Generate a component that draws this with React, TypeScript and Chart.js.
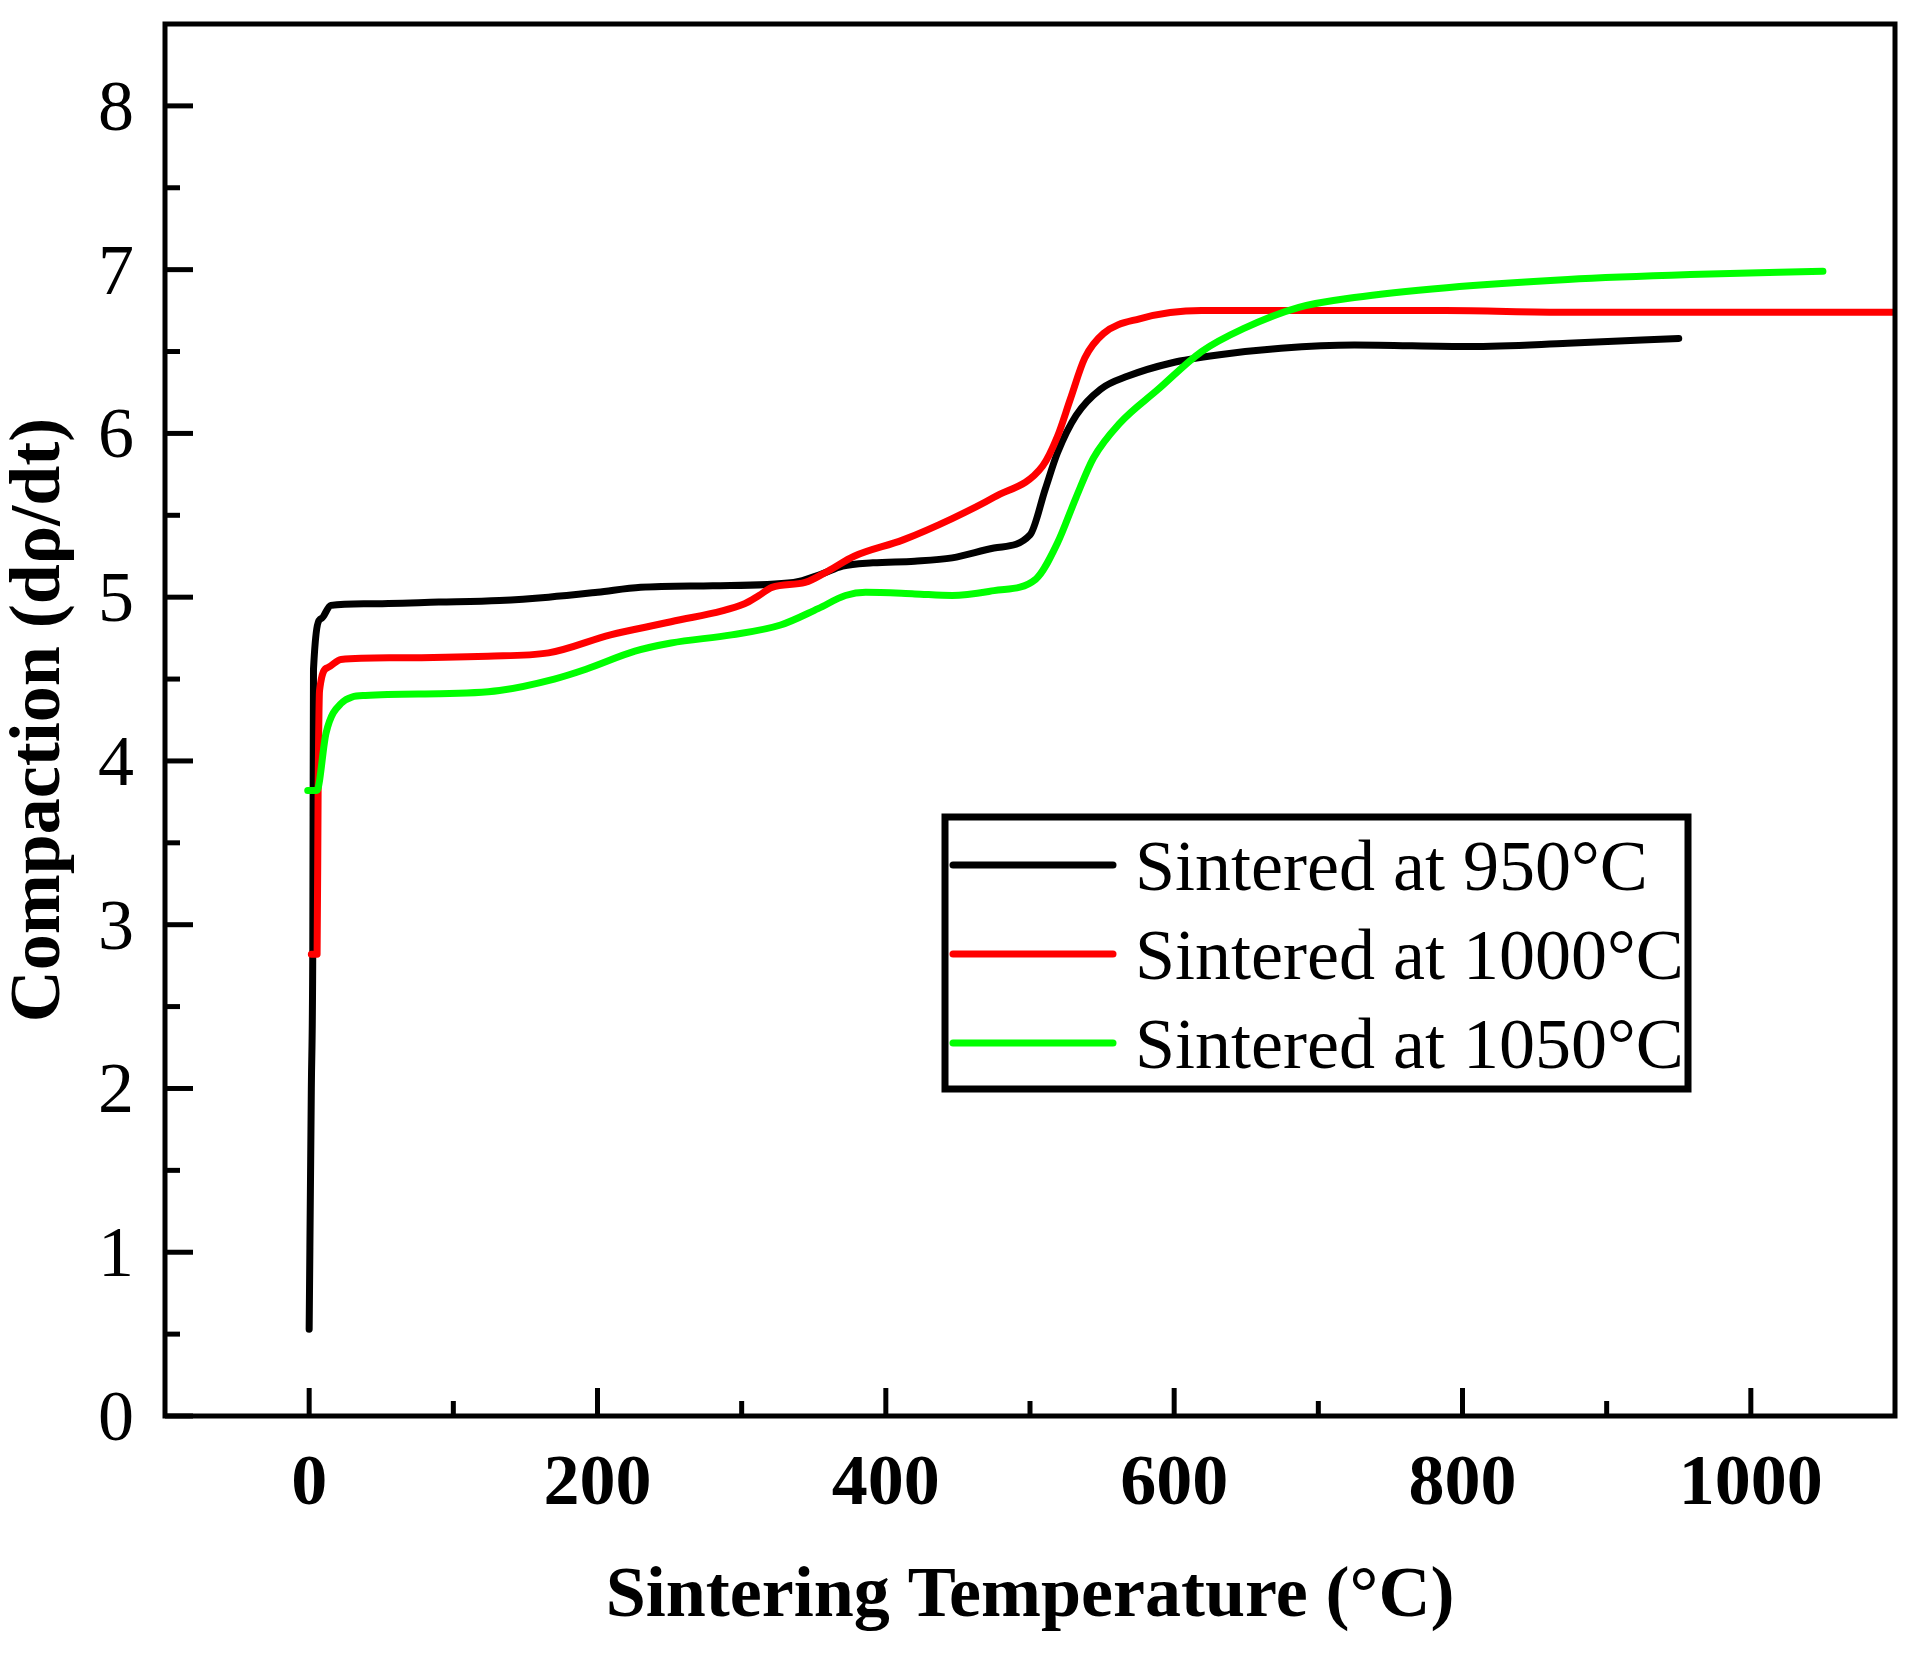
import React, { useEffect, useRef } from "react";
import { Chart, registerables } from "chart.js";

Chart.register(...registerables);

// ---- data ----
const temp950 = [0, 1.5, 2.5, 3, 8.5, 15, 40, 90, 132, 166, 200, 230, 280, 336, 355, 370, 391, 420, 446, 475, 500, 510.6, 519, 532, 549, 568, 598, 631.5, 674, 725, 805, 873, 950];
const comp950 = [0.53, 2.0, 2.85, 4.56, 4.87, 4.95, 4.96, 4.97, 4.98, 5.0, 5.03, 5.06, 5.07, 5.09, 5.14, 5.19, 5.21, 5.22, 5.24, 5.3, 5.38, 5.66, 5.88, 6.11, 6.27, 6.35, 6.43, 6.48, 6.52, 6.54, 6.53, 6.55, 6.58];

const temp1000 = [1.5, 5.5, 6.2, 7.2, 13, 22, 60, 124, 166, 209, 251, 302, 312, 321, 344, 360, 378, 412, 446, 475, 508.7, 519, 528, 538, 551, 576, 619, 703, 788, 873, 1000, 1100];
const comp1000 = [2.82, 2.82, 3.8, 4.43, 4.57, 4.62, 4.63, 4.64, 4.66, 4.77, 4.85, 4.96, 5.01, 5.06, 5.09, 5.16, 5.25, 5.35, 5.48, 5.61, 5.8, 5.98, 6.21, 6.46, 6.61, 6.7, 6.75, 6.75, 6.75, 6.74, 6.74, 6.74];

const temp1050 = [-1, 5.3, 11.7, 22, 39, 90, 132, 170, 192, 226, 251, 293, 327, 353, 372, 386, 420, 446, 475, 504, 519, 532, 544, 562, 589, 619, 648, 686.5, 725, 789, 873, 958, 1050];
const comp1050 = [3.82, 3.82, 4.17, 4.35, 4.4, 4.41, 4.43, 4.5, 4.56, 4.67, 4.72, 4.77, 4.83, 4.93, 5.01, 5.03, 5.02, 5.01, 5.04, 5.11, 5.33, 5.61, 5.85, 6.06, 6.27, 6.5, 6.64, 6.77, 6.83, 6.89, 6.94, 6.97, 6.99];

const seriesLabels = ["Sintered at 950°C", "Sintered at 1000°C", "Sintered at 1050°C"];
const seriesColors = ["#000000", "#ff0000", "#00ff00"];

const xMajorTicks = [0, 200, 400, 600, 800, 1000];
const xMinorTicks = [100, 300, 500, 700, 900];
const yMajorTicks = [0, 1, 2, 3, 4, 5, 6, 7, 8];
const yMinorTicks = [0.5, 1.5, 2.5, 3.5, 4.5, 5.5, 6.5, 7.5];

const xTitle = "Sintering Temperature (°C)";
const yTitle = "Compaction (dρ/dt)";

const FONT = "'Liberation Serif', 'Times New Roman', serif";

function zip(xs: number[], ys: number[]) {
  return xs.map((x, i) => ({ x, y: ys[i] }));
}

const framePlugin = {
  id: "framePlugin",
  afterDraw(chart: any) {
    const ctx = chart.ctx as CanvasRenderingContext2D;
    const { left, right, top, bottom } = chart.chartArea;
    const xs = chart.scales.x;
    const ys = chart.scales.y;
    ctx.save();
    ctx.strokeStyle = "#000";
    ctx.fillStyle = "#000";
    ctx.lineWidth = 5;
    ctx.lineCap = "butt";
    // frame
    ctx.strokeRect(left, top, right - left, bottom - top);
    // x ticks (inward)
    const drawX = (v: number, len: number) => {
      const px = xs.getPixelForValue(v);
      ctx.beginPath();
      ctx.moveTo(px, bottom);
      ctx.lineTo(px, bottom - len);
      ctx.stroke();
    };
    const drawY = (v: number, len: number) => {
      const py = ys.getPixelForValue(v);
      ctx.beginPath();
      ctx.moveTo(left, py);
      ctx.lineTo(left + len, py);
      ctx.stroke();
    };
    xMajorTicks.forEach((v) => drawX(v, 28));
    xMinorTicks.forEach((v) => drawX(v, 15));
    yMajorTicks.forEach((v) => drawY(v, 28));
    yMinorTicks.forEach((v) => drawY(v, 15));

    // tick labels
    ctx.textBaseline = "alphabetic";
    ctx.font = `bold 72px ${FONT}`;
    ctx.textAlign = "center";
    xMajorTicks.forEach((v) => {
      ctx.fillText(String(v), xs.getPixelForValue(v), 1504);
    });
    ctx.font = `72px ${FONT}`;
    ctx.textAlign = "right";
    yMajorTicks.forEach((v) => {
      ctx.fillText(String(v), 134, ys.getPixelForValue(v) + 24);
    });

    // axis titles
    ctx.font = `bold 72px ${FONT}`;
    ctx.textAlign = "center";
    ctx.fillText(xTitle, (left + right) / 2, 1616);
    ctx.save();
    ctx.translate(59, (top + bottom) / 2);
    ctx.rotate(-Math.PI / 2);
    ctx.fillText(yTitle, 0, 0);
    ctx.restore();

    // legend
    const bx = 945, by = 817, bw = 743, bh = 272;
    ctx.fillStyle = "#fff";
    ctx.fillRect(bx, by, bw, bh);
    ctx.lineWidth = 7;
    ctx.strokeStyle = "#000";
    ctx.strokeRect(bx, by, bw, bh);
    const rows = [865, 954, 1043];
    chart.data.datasets.forEach((ds: any, i: number) => {
      const ry = rows[i];
      ctx.strokeStyle = ds.borderColor;
      ctx.lineWidth = 7;
      ctx.lineCap = "round";
      ctx.beginPath();
      ctx.moveTo(953, ry);
      ctx.lineTo(1113, ry);
      ctx.stroke();
      ctx.fillStyle = "#000";
      ctx.font = `72px ${FONT}`;
      ctx.textAlign = "left";
      ctx.fillText(ds.label, 1135, ry + 25);
    });
    ctx.restore();
  },
};

export default function App() {
  const ref = useRef<HTMLCanvasElement | null>(null);
  useEffect(() => {
    document.body.style.margin = "0";
    document.body.style.overflow = "hidden";
    const canvas = ref.current;
    if (!canvas) return;
    const chart = new Chart(canvas, {
      type: "line",
      data: {
        datasets: [
          { label: seriesLabels[0], data: zip(temp950, comp950), borderColor: seriesColors[0], order: 2 },
          { label: seriesLabels[1], data: zip(temp1000, comp1000), borderColor: seriesColors[1], order: 1 },
          { label: seriesLabels[2], data: zip(temp1050, comp1050), borderColor: seriesColors[2], order: 0 },
        ].map((d) => ({
          ...d,
          borderWidth: 7,
          pointRadius: 0,
          fill: false,
          cubicInterpolationMode: "monotone" as const,
          borderCapStyle: "round" as const,
          borderJoinStyle: "round" as const,
        })),
      },
      options: {
        animation: false,
        responsive: false,
        devicePixelRatio: 1,
        layout: { padding: { left: 165, right: 21, top: 24, bottom: 238 } },
        plugins: { legend: { display: false }, tooltip: { enabled: false } },
        scales: {
          x: { type: "linear", min: -100, max: 1100, display: false },
          y: { type: "linear", min: 0, max: 8.5, display: false },
        },
      },
      plugins: [framePlugin],
    });
    return () => chart.destroy();
  }, []);
  return (
    <canvas
      ref={ref}
      width={1916}
      height={1654}
      style={{ position: "absolute", left: 0, top: 0, width: 1916, height: 1654, display: "block", background: "#fff" }}
    />
  );
}
